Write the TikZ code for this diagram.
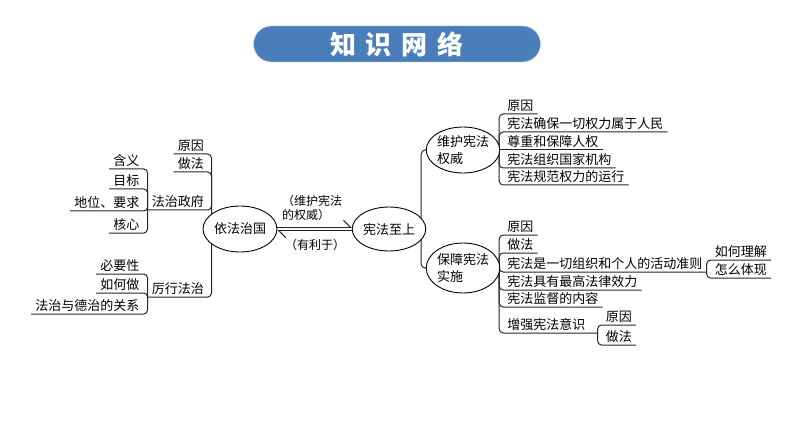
\documentclass[tikz,border=0pt]{standalone}
\usepackage{fontspec}
\setmainfont{Noto Sans CJK SC}
\usetikzlibrary{arrows.meta,shapes.geometric,calc,backgrounds}
\definecolor{titleblue}{RGB}{74,126,187}
\tikzset{>=latex}

\begin{document}
\begin{tikzpicture}[x=1pt,y=-1pt]
  % leaf = underlined topic, oval = ringed topic, link = bracket lines
  \tikzstyle{leaf}=[inner xsep=4pt, inner ysep=2.5pt, font=\fontsize{13}{15}\selectfont]
  \tikzstyle{oval}=[ellipse, draw=black, line width=0.9pt, fill=white, inner sep=0pt, align=left, font=\fontsize{13}{17}\selectfont]
  \tikzstyle{link}=[draw=black!85, line width=1pt, rounded corners=4pt]
  \tikzstyle{note}=[inner sep=0pt, align=left, font=\fontsize{12}{14}\selectfont]
  \useasboundingbox (0,0) rectangle (794,446);

  \node[rounded corners=18pt, fill=titleblue, draw=black!15, minimum width=287pt, minimum height=36pt,
        text=white, font=\fontsize{26}{26}\selectfont\bfseries] (title) at (397,44)
        {知\hspace{10pt}识\hspace{10pt}网\hspace{10pt}络};

  % the two big ideas
  \node[oval, minimum width=74pt, minimum height=46pt] (main) at (240,229) {依法治国};
  \node[oval, minimum width=64pt, minimum height=44pt] (top) at (389,229) {宪法至上};
  \node[oval, minimum width=71pt, minimum height=46pt] (keep) at (463,150) {维护宪法\\权威};
  \node[oval, minimum width=71pt, minimum height=50pt] (ensure) at (463,268) {保障宪法\\实施};

  \node[note, anchor=south west] (keeplbl) at (282,221) {（维护宪法\\的权威）};
  \node[note] (helplbl) at (315,245) {（有利于）};

  % left side
  \coordinate (mk) at ($(main.west)+(9,-34)$);
  \node[leaf, anchor=south east] (why1) at (208,154) {原因};
  \node[leaf, anchor=south east] (how1) at (208,172) {做法};
  \node[leaf, anchor=south east] (gov) at (208,210) {法治政府};
  \node[leaf, anchor=south east] (rule) at (208,297) {厉行法治};

  \coordinate (gk) at ($(gov.south west)+(0,-10)$);
  \node[leaf, anchor=south east] (mean) at ($(gov.south west)+(-4,-41)$) {含义};
  \node[leaf, anchor=south east] (goal) at ($(gov.south west)+(-4,-21)$) {目标};
  \node[leaf, anchor=south east] (role) at ($(gov.south west)+(-4,1)$) {地位、要求};
  \node[leaf, anchor=south east] (core) at ($(gov.south west)+(-4,23)$) {核心};

  \coordinate (rk) at (rule.south west);
  \node[leaf, anchor=south east] (need) at ($(rk)+(-4,-23)$) {必要性};
  \node[leaf, anchor=south east] (todo) at ($(rk)+(-4,-4)$) {如何做};
  \node[leaf, anchor=south east] (moral) at ($(rk)+(-4,17)$) {法治与德治的关系};

  % right side
  \coordinate (tk) at ($(top.east)+(-5,0)$);
  \coordinate (kk) at ($(keep.east)+(-1,0)$);
  \node[leaf, anchor=south west] (k1) at ($(kk)+(4,-36)$) {原因};
  \node[leaf, anchor=south west] (k2) at ($(kk)+(4,-18)$) {宪法确保一切权力属于人民};
  \node[leaf, anchor=south west] (k3) at ($(kk)+(4,0)$) {尊重和保障人权};
  \node[leaf, anchor=south west] (k4) at ($(kk)+(4,18)$) {宪法组织国家机构};
  \node[leaf, anchor=south west] (k5) at ($(kk)+(4,35)$) {宪法规范权力的运行};

  \coordinate (ek) at ($(ensure.east)+(-1,0)$);
  \node[leaf, anchor=south west] (e1) at ($(ek)+(4,-33)$) {原因};
  \node[leaf, anchor=south west] (e2) at ($(ek)+(4,-15)$) {做法};
  \node[leaf, anchor=south west] (e3) at ($(ek)+(4,4)$) {宪法是一切组织和个人的活动准则};
  \node[leaf, anchor=south west] (e4) at ($(ek)+(4,22)$) {宪法具有最高法律效力};
  \node[leaf, anchor=south west] (e5) at ($(ek)+(4,39)$) {宪法监督的内容};
  \node[leaf, anchor=south west] (e6) at ($(ek)+(4,65)$) {增强宪法意识};

  \coordinate (e3k) at (e3.south east);
  \node[leaf, anchor=south west] (e31) at ($(e3k)+(4,-12)$) {如何理解};
  \node[leaf, anchor=south west] (e32) at ($(e3k)+(4,6)$) {怎么体现};
  \coordinate (e6k) at ($(e6.south east)+(8,0)$);
  \node[leaf, anchor=south west] (e61) at ($(e6k)+(4,-8)$) {原因};
  \node[leaf, anchor=south west] (e62) at ($(e6k)+(4,12)$) {做法};

  \begin{pgfonlayer}{background}
    \draw[link] (mk) |- (why1.south west);
    \draw[link] (mk) |- (how1.south west);
    \draw[link] (mk) |- (gov.south west);
    \draw[link] (mk) |- (rule.south west);
    \draw[link] (gk) |- (mean.south west);
    \draw[link] (gk) |- (goal.south west);
    \draw[link] (gk) |- (role.south west);
    \draw[link] (gk) |- (core.south west);
    \draw[link] (rk) |- (need.south west);
    \draw[link] (rk) |- (todo.south west);
    \draw[link] (rk) |- (moral.south west);

    \draw[link] (tk) |- (keep.west);
    \draw[link] (tk) |- (ensure.west);
    \draw[link] (kk) |- (k1.south east);
    \draw[link] (kk) |- (k2.south east);
    \draw[link] (kk) -- (k3.south east);
    \draw[link] (kk) |- (k4.south east);
    \draw[link] (kk) |- (k5.south east);
    \draw[link] (ek) |- (e1.south east);
    \draw[link] (ek) |- (e2.south east);
    \draw[link] (ek) |- (e3.south east);
    \draw[link] (ek) |- (e4.south east);
    \draw[link] (ek) |- (e5.south east);
    \draw[link] (ek) |- (e6k);
    \draw[link] (e3k) |- (e31.south east);
    \draw[link] (e3k) |- (e32.south east);
    \draw[link] (e6k) |- (e61.south east);
    \draw[link] (e6k) |- (e62.south east);
  \end{pgfonlayer}

  \draw[link, -{Straight Barb[left, length=7pt]}] ([yshift=1.6pt]main.east) -- ([yshift=1.6pt]top.west);
  \draw[link, -{Straight Barb[left, length=7pt]}] ([yshift=-1.6pt]top.west) -- ([yshift=-1.6pt]main.east);
\end{tikzpicture}
\end{document}
